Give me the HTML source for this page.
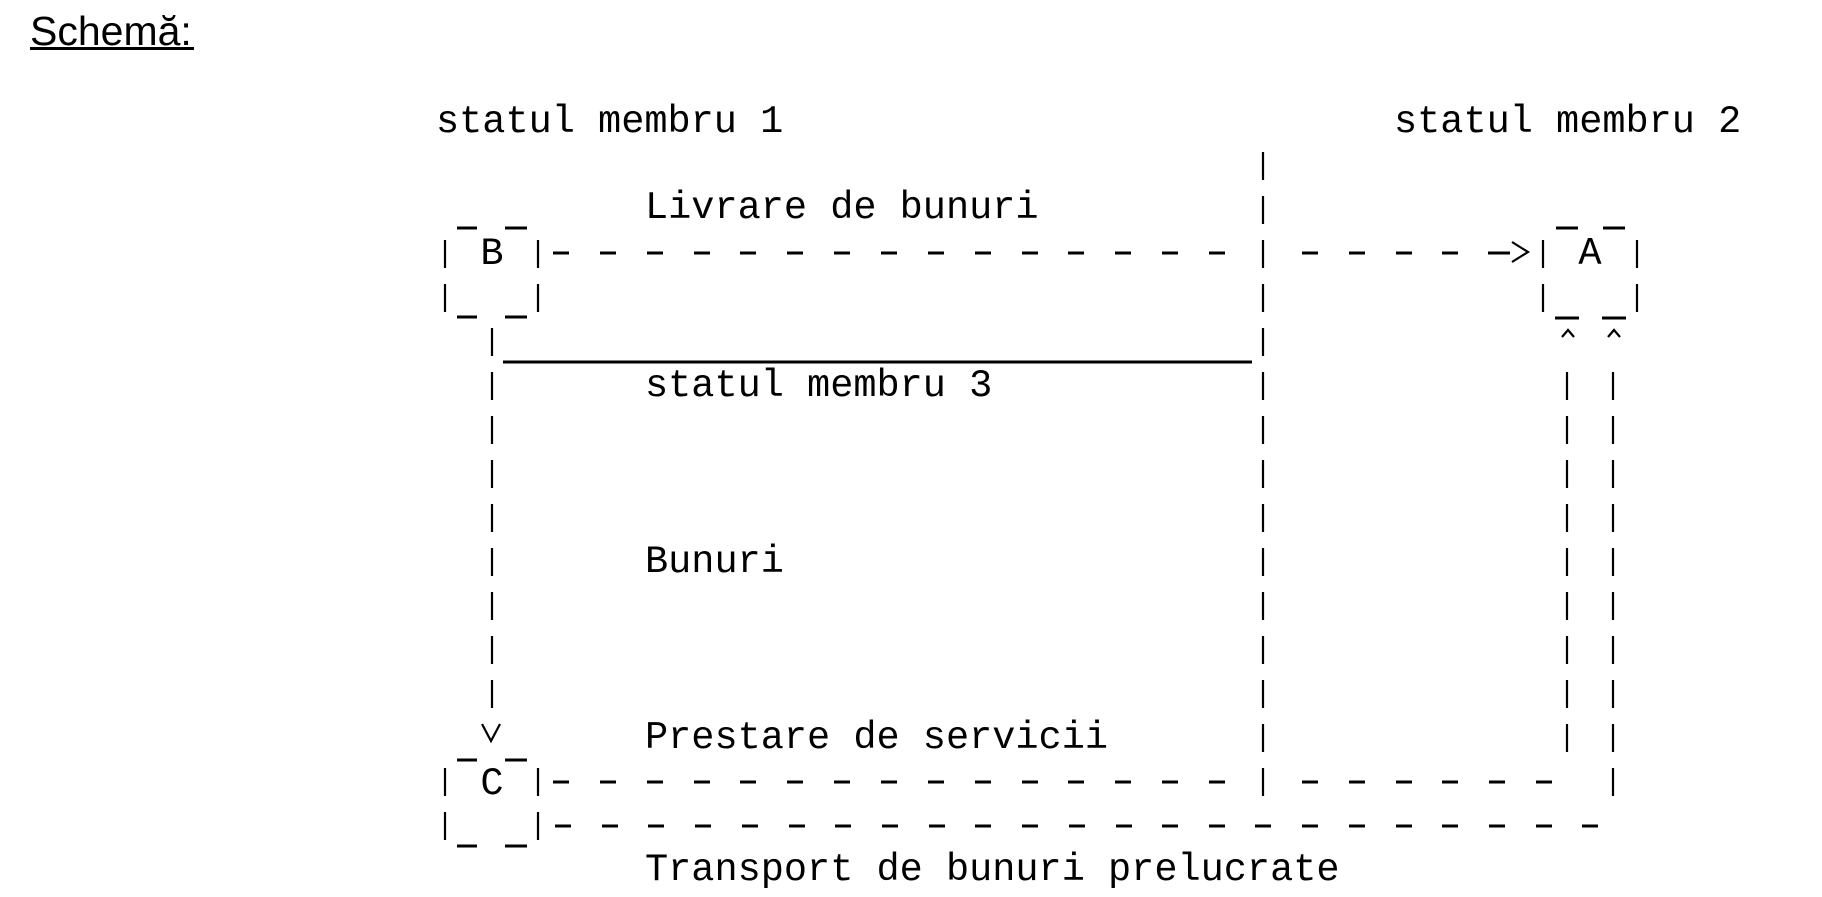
<!DOCTYPE html>
<html><head><meta charset="utf-8"><style>
html,body{margin:0;padding:0;background:#fff;width:1822px;height:897px;overflow:hidden}
svg{display:block}
</style></head><body>
<svg width="1822" height="897" xmlns="http://www.w3.org/2000/svg">
<text x="30" y="45" font-family="Liberation Sans, Arial, sans-serif" font-size="41" fill="#000">Schemă:</text>
<rect x="30" y="47" width="164" height="3" fill="#000"/>
<g font-family="Liberation Mono, Courier New, monospace" font-size="38.6" fill="#000">
<text x="436" y="132">statul membru 1</text>
<text x="1394" y="132">statul membru 2</text>
<text x="645" y="218">Livrare de bunuri</text>
<text x="645" y="396">statul membru 3</text>
<text x="645" y="572">Bunuri</text>
<text x="645" y="748">Prestare de servicii</text>
<text x="645" y="880">Transport de bunuri prelucrate</text>
<text x="492" y="264" text-anchor="middle">B</text>
<text x="1590" y="264" text-anchor="middle">A</text>
<text x="492" y="794" text-anchor="middle">C</text>
</g>
<g stroke="#000" stroke-width="2.2" fill="none">
<path d="M1263 152v28M1263 196v28M1263 240v28M1263 284v28M1263 328v28M1263 372v28M1263 416v28M1263 460v28M1263 504v28M1263 548v28M1263 592v28M1263 636v28M1263 680v28M1263 724v28M1263 768v28"/>
<path d="M492 328v28M492 372v28M492 416v28M492 460v28M492 504v28M492 548v28M492 592v28M492 636v28M492 680v28"/>
<path d="M1567 372v28M1567 416v28M1567 460v28M1567 504v28M1567 548v28M1567 592v28M1567 636v28M1567 680v28M1567 724v28"/>
<path d="M1613 372v28M1613 416v28M1613 460v28M1613 504v28M1613 548v28M1613 592v28M1613 636v28M1613 680v28M1613 724v28M1613 768v28"/>
<path d="M445 240v28M445 284v28M538 240v28M538 284v28"/>
<path d="M1543 240v28M1543 284v28M1637 240v28M1637 284v28"/>
<path d="M445 768v28M445 812v28M538 768v28M538 812v28"/>
<polyline points="1512,242 1528,252 1512,262"/>
<polyline points="1562,337 1568,330 1574,337"/>
<polyline points="1608,337 1614,330 1620,337"/>
<polyline points="482,724 491,741 500,724"/>
</g>
<g stroke="#000" stroke-width="3" fill="none">
<path d="M457 228h20M505 228h22M457 317h20M505 317h22"/>
<path d="M457 760h20M505 760h22M457 846h20M505 846h22"/>
<path d="M1556 228h22M1603 228h22M1555 318h24M1602 318h24"/>
<path d="M503 362h749"/>
<path d="M553 253h16M600 253h16M647 253h16M694 253h16M740 253h16M787 253h16M834 253h16M881 253h16M928 253h16M975 253h16M1022 253h16M1068 253h16M1115 253h16M1162 253h16M1209 253h16"/>
<path d="M1302 253h16M1349 253h16M1396 253h16M1442 253h16M1488 253h22"/>
<path d="M553 782h16M600 782h16M647 782h16M694 782h16M740 782h16M787 782h16M834 782h16M881 782h16M928 782h16M975 782h16M1022 782h16M1068 782h16M1115 782h16M1162 782h16M1209 782h16"/>
<path d="M1302 782h16M1349 782h16M1396 782h16M1442 782h16M1489 782h16M1536 782h16"/>
<path d="M555 826h16M602 826h16M648 826h16M695 826h16M742 826h16M789 826h16M835 826h16M882 826h16M929 826h16M975 826h16M1022 826h16M1069 826h16M1116 826h16M1162 826h16M1209 826h16M1255 826h16M1302 826h16M1349 826h16M1396 826h16M1442 826h16M1489 826h16M1536 826h16M1582 826h16"/>
</g>
</svg>
</body></html>
